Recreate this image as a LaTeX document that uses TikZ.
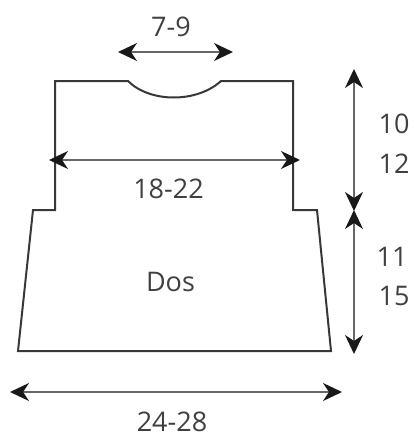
\documentclass[tikz,border=0pt]{standalone}
\usepackage{fontspec}
\setmainfont{Open Sans}
\usetikzlibrary{arrows.meta}
\tikzset{
  outline/.style={draw=black!78,line width=2pt,line join=miter},
  dim/.style={draw=black!60,line width=1.4pt,{Stealth[length=19pt,width=18pt,inset=6pt,color=black!90]}-{Stealth[length=19pt,width=18pt,inset=6pt,color=black!90]}},
  lab/.style={text=black!75,font=\fontsize{27}{27}\selectfont,inner sep=0pt,anchor=center}
}
\begin{document}
\begin{tikzpicture}[x=1pt,y=-1pt]
\useasboundingbox (0,0) rectangle (414,436);
\coordinate (nl) at (128,81);
\coordinate (nr) at (221,81);
\coordinate (a1) at (118,52);
\coordinate (a2) at (233,52);
\coordinate (b1) at (49,160);
\coordinate (b2) at (300,160);
\coordinate (c1) at (10,392);
\coordinate (c2) at (342,392);
\coordinate (d1) at (354,69);
\coordinate (d2) at (354,211);
\coordinate (e1) at (354,210);
\coordinate (e2) at (354,354);
\draw[outline] (55,81) -- (nl) .. controls (150,103) and (197,103) .. (nr) -- (293,81) -- (293,210) -- (317,210) -- (331,351) -- (18,351) -- (33,210) -- (55,210) -- cycle;
\draw[dim] (a1) -- (a2);
\draw[dim] (b1) -- (b2);
\draw[dim] (c1) -- (c2);
\draw[dim] (d1) -- (d2);
\draw[dim] (e1) -- (e2);
\node[lab] (t1) at (171,27) {7-9};
\node[lab] (t2) at (168.5,189) {18-22};
\node[lab] (t3) at (170.5,282) {Dos};
\node[lab] (t4) at (172,422) {24-28};
\node[lab] (t5) at (394,124) {10};
\node[lab] (t6) at (394,164) {12};
\node[lab] (t7) at (392,257) {11};
\node[lab] (t8) at (394,296) {15};
\end{tikzpicture}
\end{document}
